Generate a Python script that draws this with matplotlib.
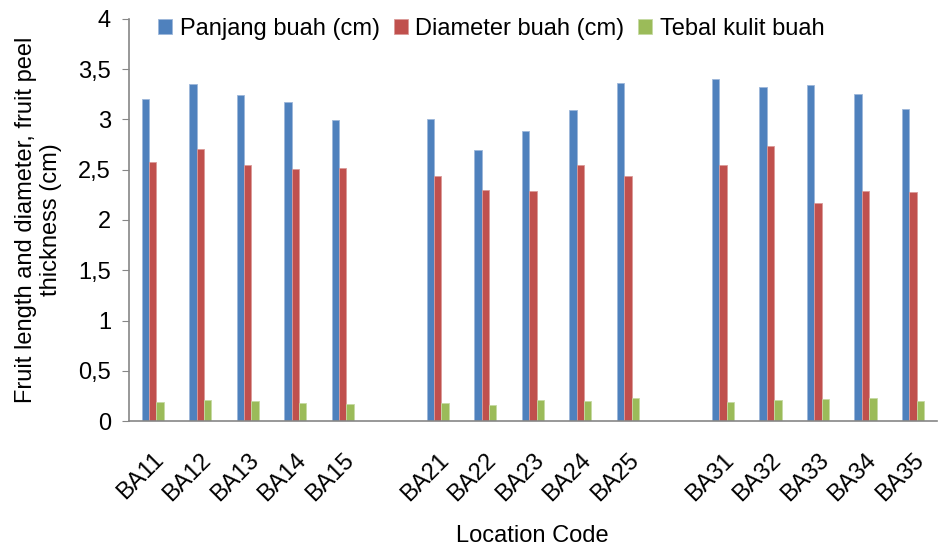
import numpy as np
import matplotlib.pyplot as plt

plt.rcParams['font.family'] = ['Liberation Sans', 'DejaVu Sans']

# data ('' marks the empty gap slots)
codes = ['BA11', 'BA12', 'BA13', 'BA14', 'BA15', '',
         'BA21', 'BA22', 'BA23', 'BA24', 'BA25', '',
         'BA31', 'BA32', 'BA33', 'BA34', 'BA35']
panjang = [3.20, 3.35, 3.24, 3.17, 2.99, np.nan,
           3.00, 2.70, 2.89, 3.09, 3.36, np.nan,
           3.40, 3.32, 3.34, 3.25, 3.10]
diameter = [2.58, 2.71, 2.55, 2.51, 2.52, np.nan,
            2.44, 2.30, 2.29, 2.55, 2.44, np.nan,
            2.55, 2.74, 2.17, 2.29, 2.28]
tebal = [0.19, 0.21, 0.20, 0.18, 0.17, np.nan,
         0.18, 0.16, 0.21, 0.20, 0.23, np.nan,
         0.19, 0.21, 0.22, 0.23, 0.20]
series_names = ['Panjang buah (cm)', 'Diameter buah (cm)', 'Tebal kulit buah']
colors = ['#4F81BD', '#C0504D', '#9BBB59']
edges = ['#9DB7DA', '#DB9A98', '#C6DAA3']

fig = plt.figure(figsize=(9.38, 5.52), dpi=100)
ax = fig.add_axes([0.1375, 0.2373, 0.861, 0.7283])

x = np.arange(len(codes))
w = 0.157
for k, vals in enumerate([panjang, diameter, tebal]):
    ax.bar(x + (k - 1) * w, vals, width=w, color=colors[k],
           edgecolor=edges[k], linewidth=0.6, label=series_names[k])

ax.set_xlim(-0.5, len(codes) - 0.5)
ax.set_ylim(0, 4)
yt = np.arange(0, 4.01, 0.5)
ax.set_yticks(yt)
ax.set_yticklabels([('%g' % v).replace('.', ',') for v in yt], fontsize=17)
ax.set_xticks(x)
ax.set_xticklabels(codes, rotation=45, ha='right', rotation_mode='anchor', fontsize=17)
ax.tick_params(axis='x', length=0, pad=20)
ax.tick_params(axis='y', length=5, color='#868686', pad=8)

for s in ['top', 'right']:
    ax.spines[s].set_visible(False)
for s in ['left', 'bottom']:
    ax.spines[s].set_color('#868686')
    ax.spines[s].set_linewidth(1.2)

ax.set_ylabel('Fruit length and diameter, fruit peel\nthickness (cm)', fontsize=17,
              linespacing=1.15, labelpad=12)
ax.set_xlabel('Location Code', fontsize=17, labelpad=14)

ax.legend(loc='upper left', bbox_to_anchor=(0.01, 1.055), ncol=3, frameon=False,
          fontsize=17, handlelength=0.6, handleheight=0.6, handletextpad=0.3,
          columnspacing=0.6)

fig.savefig('out.png', dpi=100)
